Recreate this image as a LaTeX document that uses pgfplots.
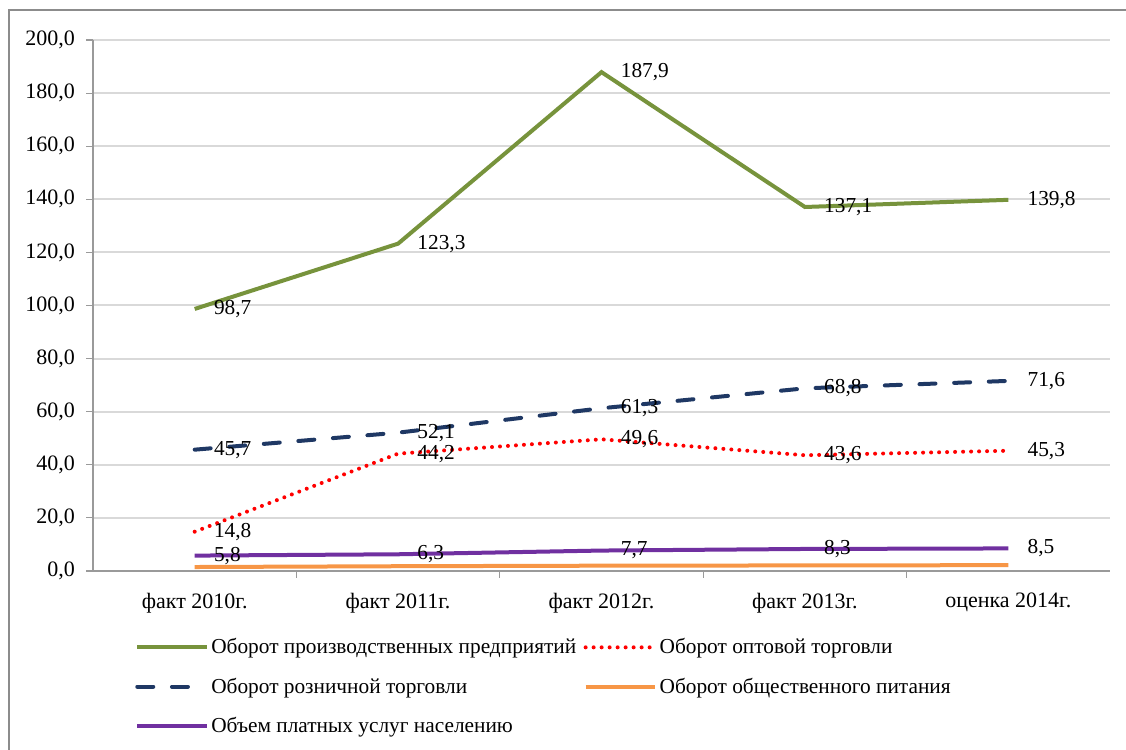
\documentclass[border=0pt]{standalone}
\usepackage{fontspec}
\setmainfont{Liberation Serif}
\usepackage{pgfplots}
\pgfplotsset{compat=1.18}
\definecolor{cgreen}{HTML}{77933C}
\definecolor{cnavy}{HTML}{1F3864}
\definecolor{cred}{HTML}{FF0000}
\definecolor{corange}{HTML}{F79646}
\definecolor{cpurple}{HTML}{7030A0}
\definecolor{cgrid}{HTML}{D9D9D9}
\definecolor{caxis}{HTML}{9A9A9A}
\definecolor{cframe}{HTML}{8C8C8C}
\begin{document}
\begin{tikzpicture}
\useasboundingbox (0pt,0pt) rectangle (844.5pt,561.75pt);
\draw[color=cframe, line width=1.5pt] (6.75pt,-5pt) -- (6.75pt,554.25pt) -- (850pt,554.25pt);
\begin{axis}[
  at={(69.75pt,133.5pt)}, anchor=south west,
  scale only axis, width=762.75pt, height=398.25pt,
  xmin=-0.5, xmax=4.5, ymin=0, ymax=200,
  ytick={0,20,...,200},
  xtick={0.5,1.5,2.5,3.5}, xticklabels={},
  extra x ticks={0,1,2,3,4},
  extra x tick labels={факт 2010г., факт 2011г., факт 2012г., факт 2013г., оценка 2014г.},
  extra x tick style={major tick length=0pt, xmajorgrids=false},
  axis x line*=bottom, axis y line*=left,
  axis line style={caxis, line width=1pt},
  tick align=outside, major tick length=5pt,
  tick style={caxis, line width=0.8pt},
  ymajorgrids, grid style={cgrid, line width=1.5pt},
  every tick label/.append style={font=\fontsize{16.5}{19}\selectfont, text=black},
  xticklabel style={yshift=-13pt},
  yticklabel style={xshift=-5pt},
  /pgf/number format/assume math mode=true,
  /pgf/number format/use comma,
  /pgf/number format/fixed,
  /pgf/number format/fixed zerofill,
  /pgf/number format/precision=1,
  every node near coord/.append style={anchor=west, xshift=11pt, inner sep=2pt, text=black, font=\fontsize{16}{19}\selectfont},
  legend columns=2,
  legend style={draw=none, fill=none, at={(0.0413,-0.122)}, anchor=north west,
    font=\fontsize{16}{19}\selectfont, inner sep=0pt, row sep=12.5pt,
    /tikz/every even column/.append style={column sep=3.5pt},
    cells={anchor=west}},
  legend image code/.code={\draw[#1] (0pt,0pt) -- (52pt,0pt);},
]
\addplot[cgreen, line width=3pt, mark=none, nodes near coords] coordinates {(0,98.7) (1,123.3) (2,187.9) (3,137.1) (4,139.8)};
\addlegendentry{Оборот производственных  предприятий}
\addplot[cred, line width=3pt, line cap=round, dash pattern=on 0pt off 6pt, mark=none, nodes near coords] coordinates {(0,14.8) (1,44.2) (2,49.6) (3,43.6) (4,45.3)};
\addlegendentry{Оборот оптовой торговли}
\addplot[cnavy, line width=3pt, line cap=round, dash pattern=on 12pt off 14pt, mark=none, nodes near coords] coordinates {(0,45.7) (1,52.1) (2,61.3) (3,68.8) (4,71.6)};
\addlegendentry{Оборот розничной  торговли}
\addplot[corange, line width=3pt, mark=none] coordinates {(0,1.5) (1,1.8) (2,2.0) (3,2.1) (4,2.2)};
\addlegendentry{Оборот общественного питания}
\addplot[cpurple, line width=3pt, mark=none, nodes near coords] coordinates {(0,5.8) (1,6.3) (2,7.7) (3,8.3) (4,8.5)};
\addlegendentry{Объем платных  услуг населению}
\end{axis}
\end{tikzpicture}
\end{document}
